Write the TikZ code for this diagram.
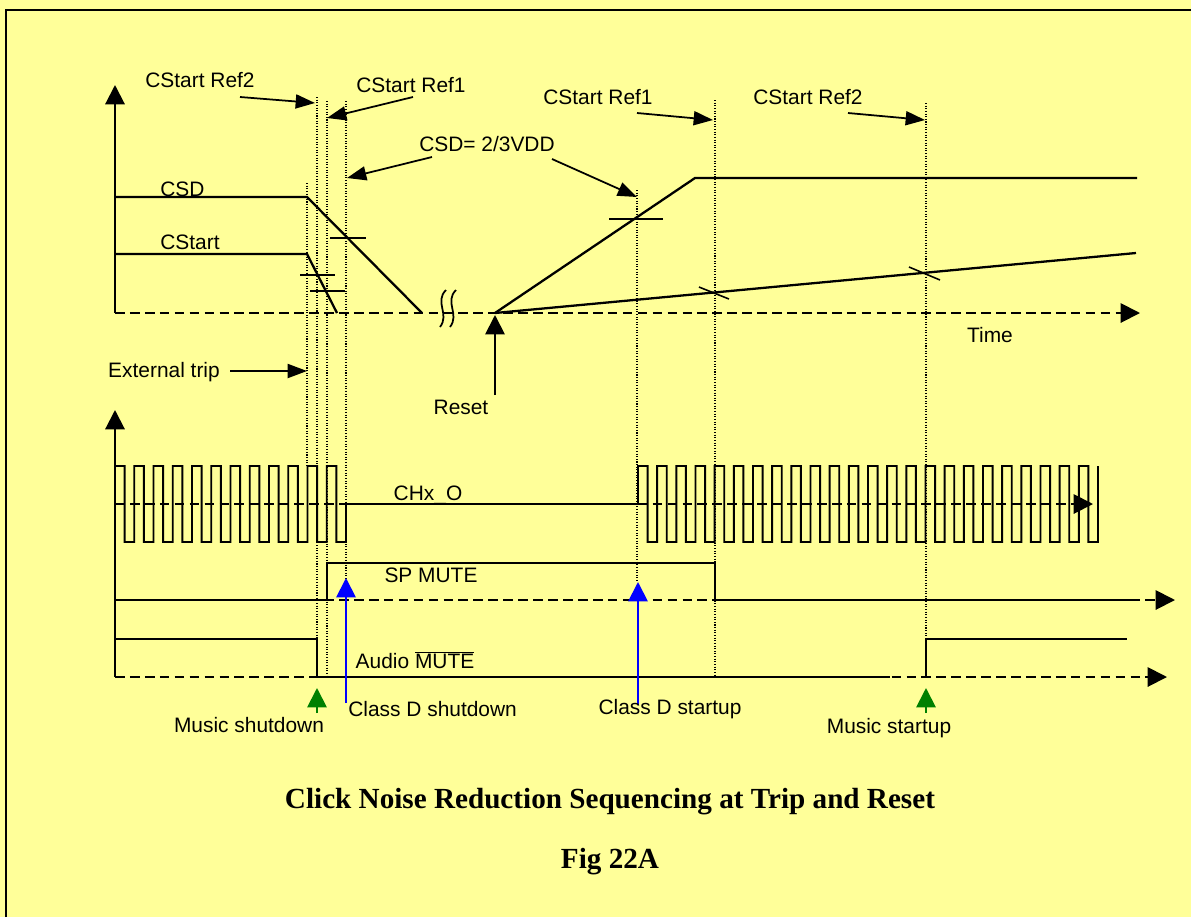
\documentclass[tikz,border=0pt]{standalone}
\usepackage{fontspec}
\setmainfont{Liberation Serif}
\setsansfont{Liberation Sans}
\usetikzlibrary{arrows.meta}
\definecolor{noteYellow}{HTML}{FFFF99}
\definecolor{tripGreen}{HTML}{008000}
\definecolor{dBlue}{HTML}{0000FF}

\begin{document}
\begin{tikzpicture}[x=0.02cm, y=-0.02cm,
    sig/.style={line width=1.3pt},
    pulse/.style={line width=1.1pt},
    axisline/.style={line width=1.2pt, -{Triangle[length=11pt,width=11pt]}},
    timeline/.style={line width=1.1pt, dash pattern=on 5.5pt off 3pt, -{Triangle[length=11pt,width=11pt]}},
    marker/.style={line width=0.6pt, dash pattern=on 0.6pt off 0.9pt},
    callout/.style={line width=1pt, -{Triangle[length=11pt,width=8pt]}},
    event/.style={line width=1.1pt, -{Triangle[length=11pt,width=11pt]}},
    tick/.style={line width=0.9pt},
    lbl/.style={font=\sffamily\fontsize{11.9}{14}\selectfont, inner sep=0pt},
    caption/.style={font=\bfseries\fontsize{16.6}{20}\selectfont, inner sep=0pt}]

    \useasboundingbox (0,0) rectangle (1191,917);
    \fill[noteYellow] (0,0) rectangle (1191,917);
    \draw[line width=1.1pt] (6,917) -- (6,10) -- (1191,10);

    % event markers
    \draw[marker] (307,183) -- (307,466);
    \draw[marker] (317,97) -- (317,677);
    \draw[marker] (327,101) -- (327,677);
    \draw[marker] (346,101) -- (346,580);
    \draw[marker] (637,190) -- (637,582);
    \draw[marker] (715,100) -- (715,677);
    \draw[marker] (926,103) -- (926,639);

    % capacitor voltages
    \draw[axisline] (115,313) -- (115,85);
    \draw[timeline] (115,313) -- (1140,313);
    \draw[sig] (115,197) -- (307,197) -- (422,313);
    \draw[sig] (115,254) -- (307,254) -- (337,313);
    \draw[sig] (495,313) -- (695,178) -- (1137,178);
    \draw[sig] (495,313) -- (1136,253);
    \draw[tick] (330,238) -- (366,238);
    \draw[tick] (300,275) -- (335,275);
    \draw[tick] (310,291) -- (345,291);
    \draw[tick] (609,219) -- (663,219);
    \draw[tick] (699,287) -- (729,299);
    \draw[tick] (909,267) -- (940,280);
    \draw[line width=1pt] (446,290) .. controls (434,302) and (450,314) .. (440,327);
    \draw[line width=1pt] (456,290) .. controls (444,302) and (460,314) .. (450,327);

    \node[lbl] (ref2Fall) at (200,80) {CStart Ref2};
    \node[lbl] (ref1Fall) at (411,85) {CStart Ref1};
    \node[lbl] (csdRef) at (487,144) {CSD= 2/3VDD};
    \node[lbl] (ref1Rise) at (598,97) {CStart Ref1};
    \node[lbl] (ref2Rise) at (808,97) {CStart Ref2};
    \node[lbl, anchor=west] (csdName) at (160,189) {CSD};
    \node[lbl, anchor=west] (cstartName) at (160,242) {CStart};
    \node[lbl] (timeName) at (990,335) {Time};
    \node[lbl] (tripName) at (164,372) {External trip};
    \node[lbl] (resetName) at (461,407) {Reset};

    \coordinate (ref2FallTail) at (240,97);
    \coordinate (ref2FallTip) at (315,103);
    \coordinate (ref1FallTail) at (413,97);
    \coordinate (ref1FallTip) at (327,118);
    \coordinate (csdRefTailA) at (432,157);
    \coordinate (csdRefTipA) at (347,178);
    \coordinate (csdRefTailB) at (552,159);
    \coordinate (csdRefTipB) at (637,197);
    \coordinate (ref1RiseTail) at (637,113);
    \coordinate (ref1RiseTip) at (713,120);
    \coordinate (ref2RiseTail) at (848,113);
    \coordinate (ref2RiseTip) at (925,120);
    \coordinate (tripTail) at (230,371);
    \coordinate (tripTip) at (307,371);
    \coordinate (resetFoot) at (495,395);
    \coordinate (resetTip) at (495,315);

    \draw[callout] (ref2FallTail) -- (ref2FallTip);
    \draw[callout] (ref1FallTail) -- (ref1FallTip);
    \draw[callout] (csdRefTailA) -- (csdRefTipA);
    \draw[callout] (csdRefTailB) -- (csdRefTipB);
    \draw[callout] (ref1RiseTail) -- (ref1RiseTip);
    \draw[callout] (ref2RiseTail) -- (ref2RiseTip);
    \draw[callout] (tripTail) -- (tripTip);
    \draw[event] (resetFoot) -- (resetTip);

    % output and mute signals
    \draw[axisline] (115,677) -- (115,410);
    \draw[timeline] (115,504) -- (1093,504);
    \draw[pulse] (115,504) -- (115,466)
      \foreach \k in {1,...,11} { -- ++(9.625,0) -- ++(0,76) -- ++(9.625,0) -- ++(0,-76) }
      -- ++(9.625,0) -- ++(0,76) -- ++(9.625,0) -- (346,504) -- (638,504) -- (638,466)
      \foreach \k in {1,...,24} { -- ++(9.583,0) -- ++(0,76) -- ++(9.583,0) -- ++(0,-76) };
    \node[lbl] (chxName) at (428,495) {CHx\_O};

    \draw[timeline] (115,600) -- (1175,600);
    \draw[pulse] (115,600) -- (327,600) -- (327,563) -- (715,563) -- (715,600) -- (1140,600);
    \node[lbl] (spName) at (431,575) {SP MUTE};

    \draw[timeline] (115,677) -- (1167,677);
    \draw[pulse] (115,639) -- (317,639) -- (317,677) -- (890,677);
    \draw[pulse] (926,677) -- (926,639) -- (1127,639);
    \node[lbl] (audioName) at (415,660) {Audio $\overline{\hbox{MUTE}}$};

    \coordinate (cdOffFoot) at (346,703);
    \coordinate (cdOffTip) at (346,578);
    \coordinate (cdOnFoot) at (638,705);
    \coordinate (cdOnTip) at (638,582);
    \coordinate (musicOffFoot) at (317,713);
    \coordinate (musicOffTip) at (317,688);
    \coordinate (musicOnFoot) at (926,713);
    \coordinate (musicOnTip) at (926,688);

    \draw[event, dBlue] (cdOffFoot) -- (cdOffTip);
    \draw[event, dBlue] (cdOnFoot) -- (cdOnTip);
    \draw[event, tripGreen] (musicOffFoot) -- (musicOffTip);
    \draw[event, tripGreen] (musicOnFoot) -- (musicOnTip);

    \node[lbl, anchor=west] (cdOffName) at (348,709) {Class D shutdown};
    \node[lbl] (cdOnName) at (670,709) {Class D startup};
    \node[lbl] (musicOffName) at (249,725) {Music shutdown};
    \node[lbl] (musicOnName) at (889,728) {Music startup};

    \node[caption] (title) at (610,802) {Click Noise Reduction Sequencing at Trip and Reset};
    \node[caption] (figNo) at (610,862) {Fig 22A};
\end{tikzpicture}
\end{document}
